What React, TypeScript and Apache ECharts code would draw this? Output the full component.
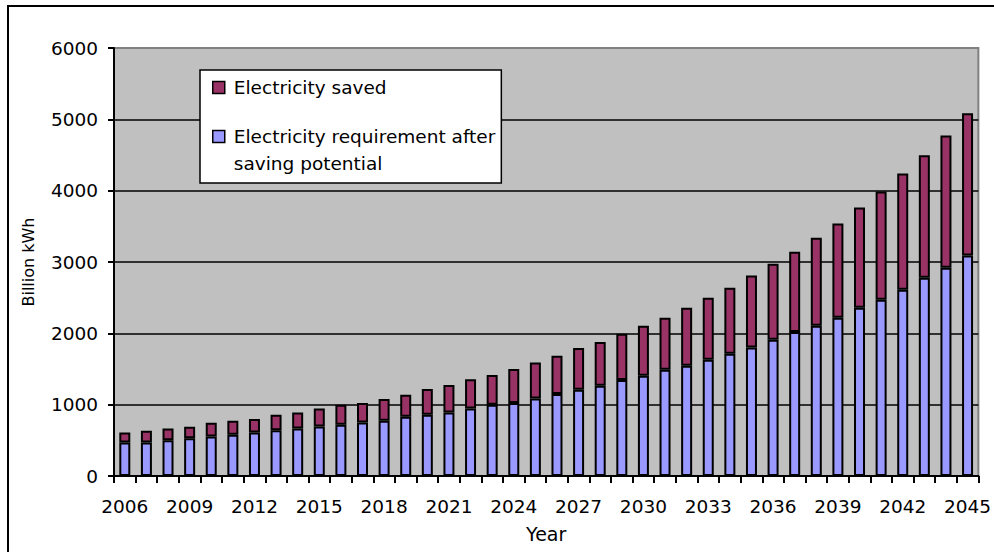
import React, { useEffect, useRef } from "react";
import * as echarts from "echarts";

// Years on the category axis
const years: string[] = [];
for (let y = 2006; y <= 2045; y++) years.push(String(y));

// Electricity requirement after saving potential (billion kWh)
const requirement = [
  470, 470, 500, 530, 555, 580, 610, 640, 665, 695,
  720, 750, 775, 830, 860, 890, 945, 1000, 1025, 1085,
  1150, 1210, 1265, 1345, 1405, 1490, 1545, 1630, 1715, 1800,
  1910, 2020, 2105, 2220, 2360, 2470, 2610, 2780, 2920, 3090,
];

// Electricity saved (billion kWh), stacked on top of the requirement
const saved = [
  140, 165, 165, 160, 190, 195, 190, 220, 225, 250,
  280, 275, 305, 310, 360, 385, 410, 415, 475, 505,
  535, 585, 615, 650, 700, 730, 815, 870, 925, 1010,
  1065, 1125, 1235, 1320, 1405, 1520, 1630, 1715, 1855, 1995,
];

const SAVED = "Electricity saved";
const REQUIREMENT = "Electricity requirement after saving potential";

const FONT = "DejaVu Sans";

export default function App() {
  const ref = useRef<HTMLDivElement>(null);

  useEffect(() => {
    if (!ref.current) return;
    const chart = echarts.init(ref.current, null, { renderer: "svg" });
    chart.setOption({
      animation: false,
      backgroundColor: "#ffffff",
      textStyle: { fontFamily: FONT, color: "#000" },
      graphic: [
        {
          type: "rect",
          shape: { x: 8, y: 6, width: 1100, height: 700 },
          style: { fill: "none", stroke: "#000", lineWidth: 2 },
          silent: true,
          z: 0,
        },
      ],
      grid: {
        left: 114,
        top: 48,
        right: 8,
        bottom: 76,
        show: true,
        backgroundColor: "#C0C0C0",
        borderColor: "#808080",
        borderWidth: 2,
      },
      legend: {
        data: [SAVED, REQUIREMENT],
        orient: "vertical",
        left: 200,
        top: 70,
        backgroundColor: "#ffffff",
        borderColor: "#000",
        borderWidth: 1.5,
        padding: [4, 6, 6, 12],
        itemGap: -5,
        itemWidth: 12,
        itemHeight: 12,
        icon: "rect",
        itemStyle: { borderColor: "#000", borderWidth: 1.5 },
        textStyle: {
          fontFamily: FONT,
          fontSize: 18.5,
          lineHeight: 27,
          color: "#000",
          padding: [0, 0, 0, 4],
        },
        formatter: (name: string) =>
          name === REQUIREMENT
            ? "\nElectricity requirement after\nsaving potential"
            : name,
      },
      xAxis: {
        type: "category",
        data: years,
        name: "Year",
        nameLocation: "middle",
        nameGap: 48,
        nameTextStyle: { fontFamily: FONT, fontSize: 19, color: "#000" },
        axisLine: { show: true, lineStyle: { color: "#000", width: 2 } },
        axisTick: {
          show: true,
          interval: 0,
          length: 7,
          lineStyle: { color: "#000", width: 2 },
        },
        axisLabel: {
          interval: 2,
          margin: 21,
          fontFamily: FONT,
          fontSize: 18.5,
          color: "#000",
        },
        splitLine: { show: false },
      },
      yAxis: {
        type: "value",
        min: 0,
        max: 6000,
        interval: 1000,
        name: "Billion kWh",
        nameLocation: "middle",
        nameRotate: 90,
        nameGap: 78,
        nameTextStyle: { fontFamily: FONT, fontSize: 16, color: "#000" },
        axisLine: { show: true, lineStyle: { color: "#000", width: 2 } },
        axisTick: { show: true, length: 6, lineStyle: { color: "#000", width: 2 } },
        axisLabel: {
          margin: 16,
          fontFamily: FONT,
          fontSize: 18.5,
          color: "#000",
          formatter: (v: number) => String(v),
        },
        splitLine: {
          show: true,
          showMaxLine: false,
          lineStyle: { color: "#000", width: 1.5 },
        },
      },
      series: [
        {
          name: REQUIREMENT,
          type: "bar",
          stack: "total",
          barWidth: 11,
          data: requirement,
          itemStyle: { color: "#9999FF", borderColor: "#000", borderWidth: 2 },
        },
        {
          name: SAVED,
          type: "bar",
          stack: "total",
          barWidth: 11,
          data: saved,
          itemStyle: { color: "#993366", borderColor: "#000", borderWidth: 2 },
        },
      ],
    });
    return () => chart.dispose();
  }, []);

  return (
    <div
      ref={ref}
      style={{ position: "fixed", left: 0, top: 0, width: 994, height: 552 }}
    />
  );
}
